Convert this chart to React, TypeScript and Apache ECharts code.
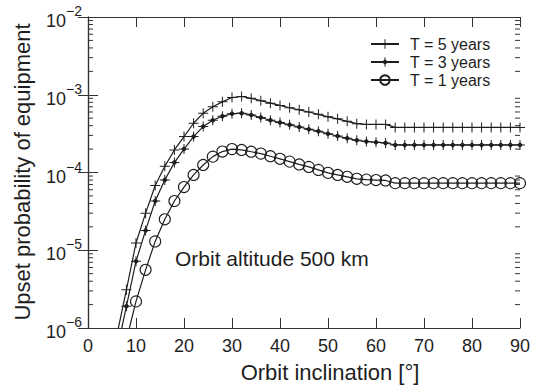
import React, { useEffect, useRef } from "react";
import * as echarts from "echarts";

const inclination = [6, 8, 10, 12, 14, 16, 18, 20, 22, 24, 26, 28, 30, 32, 34, 36, 38, 40, 42, 44, 46, 48, 50, 52, 54, 56, 58, 60, 62, 64, 66, 68, 70, 72, 74, 76, 78, 80, 82, 84, 86, 88, 90];

const t5 = [8e-7, 3.1e-6, 1.24e-5, 3.0e-5, 6.8e-5, 1.2e-4, 1.95e-4, 2.9e-4, 4.3e-4, 5.8e-4, 7.0e-4, 8.1e-4, 9.2e-4, 9.5e-4, 9.0e-4, 8.4e-4, 7.8e-4, 7.3e-4, 6.8e-4, 6.4e-4, 6.0e-4, 5.6e-4, 5.2e-4, 4.9e-4, 4.55e-4, 4.25e-4, 4.15e-4, 4.15e-4, 4.15e-4, 3.8e-4, 3.8e-4, 3.8e-4, 3.8e-4, 3.8e-4, 3.8e-4, 3.8e-4, 3.8e-4, 3.8e-4, 3.8e-4, 3.8e-4, 3.8e-4, 3.8e-4, 3.8e-4];

const t3 = [5e-7, 1.9e-6, 7.2e-6, 1.8e-5, 4.3e-5, 8.0e-5, 1.34e-4, 2.0e-4, 2.9e-4, 3.9e-4, 4.7e-4, 5.3e-4, 5.7e-4, 5.8e-4, 5.5e-4, 5.1e-4, 4.7e-4, 4.4e-4, 4.1e-4, 3.85e-4, 3.6e-4, 3.4e-4, 3.15e-4, 2.95e-4, 2.75e-4, 2.6e-4, 2.5e-4, 2.45e-4, 2.4e-4, 2.26e-4, 2.26e-4, 2.26e-4, 2.26e-4, 2.26e-4, 2.26e-4, 2.26e-4, 2.26e-4, 2.26e-4, 2.26e-4, 2.26e-4, 2.26e-4, 2.26e-4, 2.26e-4];

const t1 = [null, 7e-7, 2.2e-6, 5.6e-6, 1.3e-5, 2.5e-5, 4.3e-5, 6.5e-5, 9.3e-5, 1.25e-4, 1.6e-4, 1.86e-4, 2.0e-4, 1.95e-4, 1.85e-4, 1.75e-4, 1.62e-4, 1.5e-4, 1.38e-4, 1.27e-4, 1.18e-4, 1.08e-4, 9.9e-5, 9.3e-5, 8.8e-5, 8.3e-5, 8.1e-5, 8.0e-5, 7.9e-5, 7.3e-5, 7.3e-5, 7.3e-5, 7.3e-5, 7.3e-5, 7.3e-5, 7.3e-5, 7.3e-5, 7.3e-5, 7.3e-5, 7.3e-5, 7.3e-5, 7.3e-5, 7.3e-5];

const seriesNames = ["T = 5 years", "T = 3 years", "T = 1 years"];
const minorMultipliers = [2, 3, 4, 5, 6, 7, 8, 9];
const decades = [1e-6, 1e-5, 1e-4, 1e-3];

const FONT = '"Liberation Sans", Arial, Helvetica, sans-serif';
const INK = "#1e1e1e";

const plusPath = "path://M-0.5,-5H0.5V-0.5H5V0.5H0.5V5H-0.5V0.5H-5V-0.5H-0.5Z";
const plusDotPath = "path://M-0.5,-5H0.5V-0.5H5V0.5H0.5V5H-0.5V0.5H-5V-0.5H-0.5Z M0,-3L3,0L0,3L-3,0Z";

export default function App() {
  const ref = useRef<HTMLDivElement>(null);
  useEffect(() => {
    if (!ref.current) return;
    const chart = echarts.init(ref.current, null, { renderer: "svg" });
    const pairs = (arr: (number | null)[]) => inclination.map((x, i) => [x, arr[i]]);
    const minorTicks: number[][] = [];
    decades.forEach((d) => minorMultipliers.forEach((m) => minorTicks.push([0, d * m])));

    const fmtY = (v: number) => {
      const e = Math.round(Math.log10(v));
      const s = e < 0 ? "\u2212" + Math.abs(e) : String(e);
      return `{b|10}{s|${s}}`;
    };

    const lineBase = {
      type: "line" as const,
      xAxisIndex: 0,
      yAxisIndex: 0,
      clip: true,
      connectNulls: false,
      lineStyle: { color: INK, width: 1.2 },
    };

    chart.setOption({
      animation: false,
      backgroundColor: "#fff",
      grid: { left: 88, right: 10, top: 17, bottom: 61, containLabel: false },
      legend: {
        data: seriesNames,
        orient: "vertical",
        left: 365,
        top: 31,
        itemWidth: 28,
        itemHeight: 12,
        itemGap: 2,
        textStyle: { fontFamily: FONT, fontSize: 16, color: INK, padding: [0, 0, 0, 6] },
        selectedMode: false,
      },
      xAxis: [
        {
          type: "value",
          min: 0,
          max: 90,
          interval: 10,
          position: "bottom",
          axisLine: { show: true, lineStyle: { color: "#333", width: 1.2 } },
          axisTick: { show: true, inside: true, length: 10, lineStyle: { color: "#333" } },
          axisLabel: { show: true, fontFamily: FONT, fontSize: 18, color: INK, margin: 9 },
          splitLine: { show: false },
        },
        {
          type: "value",
          min: 0,
          max: 90,
          interval: 10,
          position: "top",
          axisLine: { show: true, lineStyle: { color: "#333", width: 1.2 } },
          axisTick: { show: true, inside: true, length: 10, lineStyle: { color: "#333" } },
          axisLabel: { show: false },
          splitLine: { show: false },
        },
      ],
      yAxis: [
        {
          type: "log",
          logBase: 10,
          min: 1e-6,
          max: 1e-2,
          position: "left",
          axisLine: { show: true, lineStyle: { color: "#333", width: 1.2 } },
          axisTick: { show: true, inside: true, length: 10, lineStyle: { color: "#333" } },
          axisLabel: {
            show: true,
            margin: 6,
            formatter: fmtY,
            rich: {
              b: { fontFamily: FONT, fontSize: 18, color: INK, verticalAlign: "bottom", padding: [8, 0, 0, 0] },
              s: { fontFamily: FONT, fontSize: 14, color: INK, verticalAlign: "top" },
            },
          },
          splitLine: { show: false },
        },
        {
          type: "log",
          logBase: 10,
          min: 1e-6,
          max: 1e-2,
          position: "right",
          axisLine: { show: true, lineStyle: { color: "#333", width: 1.2 } },
          axisTick: { show: true, inside: true, length: 10, lineStyle: { color: "#333" } },
          axisLabel: { show: false },
          splitLine: { show: false },
        },
      ],
      series: [
        {
          ...lineBase,
          name: seriesNames[0],
          data: pairs(t5),
          symbol: plusPath,
          symbolSize: 10,
          itemStyle: { color: INK },
        },
        {
          ...lineBase,
          name: seriesNames[1],
          data: pairs(t3),
          symbol: plusDotPath,
          symbolSize: 10,
          itemStyle: { color: INK },
        },
        {
          ...lineBase,
          name: seriesNames[2],
          data: pairs(t1),
          symbol: "circle",
          symbolSize: 11,
          itemStyle: { color: "rgba(255,255,255,0)", borderColor: INK, borderWidth: 1.1 },
        },
        {
          type: "custom",
          name: "minor",
          xAxisIndex: 0,
          yAxisIndex: 0,
          silent: true,
          data: minorTicks,
          encode: { x: 0, y: 1 },
          renderItem: (params: any, api: any) => {
            const v = api.value(1);
            const l = api.coord([0, v]);
            const r = api.coord([90, v]);
            return {
              type: "group",
              children: [
                { type: "line", shape: { x1: l[0], y1: l[1], x2: l[0] + 5, y2: l[1] }, style: { stroke: "#333", lineWidth: 1 } },
                { type: "line", shape: { x1: r[0] - 5, y1: r[1], x2: r[0], y2: r[1] }, style: { stroke: "#333", lineWidth: 1 } },
              ],
            };
          },
        },
      ],
      graphic: [
        {
          type: "text",
          x: 175,
          y: 258,
          style: { text: "Orbit altitude 500 km", font: `21px ${FONT}`, fill: INK, verticalAlign: "middle", align: "left" },
        },
        {
          type: "text",
          x: 330,
          y: 372,
          style: { text: "Orbit inclination [°]", font: `22px ${FONT}`, fill: INK, verticalAlign: "middle", align: "center" },
        },
        {
          type: "text",
          x: 22,
          y: 172,
          rotation: Math.PI / 2,
          style: { text: "Upset probability of equipment", font: `22px ${FONT}`, fill: INK, verticalAlign: "middle", align: "center" },
        },
      ],
    });
    return () => chart.dispose();
  }, []);
  return <div ref={ref} style={{ width: 533, height: 389, position: "absolute", left: 0, top: 0 }} />;
}
